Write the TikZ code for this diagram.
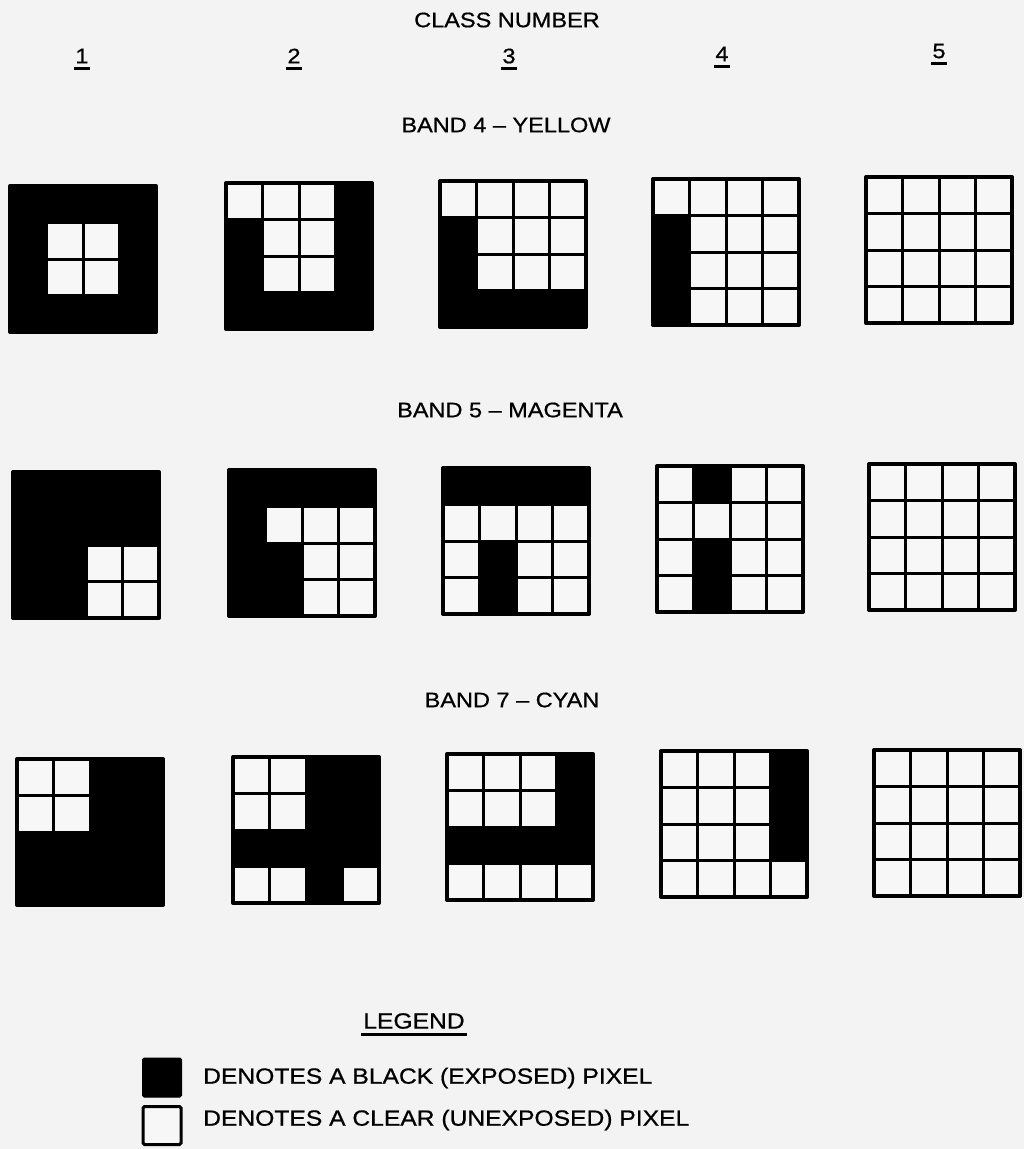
\documentclass[tikz,border=0pt]{standalone}
\usepackage{fontspec}
\setmainfont{Liberation Sans}[FakeStretch=1.12,FakeBold=0.7]
\definecolor{paper}{RGB}{243,243,243}
\definecolor{cellw}{RGB}{247,247,247}
\newcommand\pixgrid[4]{%
  \begin{scope}[shift={(#2,#3)}]
    \fill[cellw] (0,0) rectangle (146,146);
    \foreach \r/\c in {#4} {\fill[black] (\c*36.5,\r*36.5) rectangle ++(36.5,36.5);}
    \draw[cellline] (36.5,0) -- (36.5,146) (73,0) -- (73,146) (109.5,0) -- (109.5,146)
       (0,36.5) -- (146,36.5) (0,73) -- (146,73) (0,109.5) -- (146,109.5);
    \draw[frameline] (0,0) rectangle (146,146);
    \node[inner sep=0pt, minimum size=146pt] (#1) at (73,73) {};
  \end{scope}}
\begin{document}
\begin{tikzpicture}[x=1pt,y=-1pt,
  cellline/.style={line width=3pt},
  frameline/.style={line width=4pt, line join=round},
  lab/.style={inner sep=0pt, font=\fontsize{21}{24}\selectfont},
  legtext/.style={inner sep=0pt, anchor=west, font=\fontsize{22}{26}\selectfont},
  uline/.style={line width=3pt}]
\fill[paper] (0,0) rectangle (1024,1149);
\useasboundingbox (0,0) rectangle (1024,1149);

\node[lab] (title) at (507,20) {CLASS NUMBER};
\node[lab] (n1) at (82,56) {1};
\node[lab] (n2) at (294,56) {2};
\node[lab] (n3) at (509,56) {3};
\node[lab] (n4) at (722,54) {4};
\node[lab] (n5) at (939,51) {5};
\foreach \n in {n1,n2,n3,n4,n5}
  \draw[uline] ([xshift=-1pt,yshift=-5pt]\n.south west) -- ([xshift=1pt,yshift=-5pt]\n.south east);

\node[lab] (b4) at (506,125) {BAND 4 -- YELLOW};
\node[lab] (b5) at (510,410) {BAND 5 -- MAGENTA};
\node[lab] (b7) at (512,700) {BAND 7 -- CYAN};

% Band 4 - yellow
\pixgrid{y1}{10}{186}{0/0,0/1,0/2,0/3,1/0,1/3,2/0,2/3,3/0,3/1,3/2,3/3}
\pixgrid{y2}{226}{183}{0/3,1/0,1/3,2/0,2/3,3/0,3/1,3/2,3/3}
\pixgrid{y3}{440}{181}{1/0,2/0,3/0,3/1,3/2,3/3}
\pixgrid{y4}{653}{179}{1/0,2/0,3/0}
\pixgrid{y5}{866}{177}{}

% Band 5 - magenta
\pixgrid{m1}{13}{472}{0/0,0/1,0/2,0/3,1/0,1/1,1/2,1/3,2/0,2/1,3/0,3/1}
\pixgrid{m2}{229}{470}{0/0,0/1,0/2,0/3,1/0,2/0,2/1,3/0,3/1}
\pixgrid{m3}{443}{468}{0/0,0/1,0/2,0/3,2/1,3/1}
\pixgrid{m4}{657}{466}{0/1,2/1,3/1}
\pixgrid{m5}{869}{464}{}

% Band 7 - cyan
\pixgrid{c1}{17}{759}{0/2,0/3,1/2,1/3,2/0,2/1,2/2,2/3,3/0,3/1,3/2,3/3}
\pixgrid{c2}{233}{757}{0/2,0/3,1/2,1/3,2/0,2/1,2/2,2/3,3/2}
\pixgrid{c3}{447}{754}{0/3,1/3,2/0,2/1,2/2,2/3}
\pixgrid{c4}{661}{751}{0/3,1/3,2/3}
\pixgrid{c5}{874}{750}{}

% Legend
\node[lab, font=\fontsize{22}{26}\selectfont] (leg) at (414,1021) {LEGEND};
\draw[uline] ([xshift=-2pt,yshift=-5pt]leg.south west) -- ([xshift=2pt,yshift=-5pt]leg.south east);
\node[fill=black, draw=black, line width=1pt, rounded corners=1.5pt, minimum size=39pt, inner sep=0pt] (lblack) at (162,1077.5) {};
\node[fill=cellw, draw=black, line width=3pt, rounded corners=1.5pt, minimum size=38pt, inner sep=0pt] (lclear) at (162,1125.5) {};
\node[legtext] (t1) at (203,1078) {DENOTES A BLACK (EXPOSED) PIXEL};
\node[legtext] (t2) at (203,1120) {DENOTES A CLEAR (UNEXPOSED) PIXEL};
\end{tikzpicture}
\end{document}
